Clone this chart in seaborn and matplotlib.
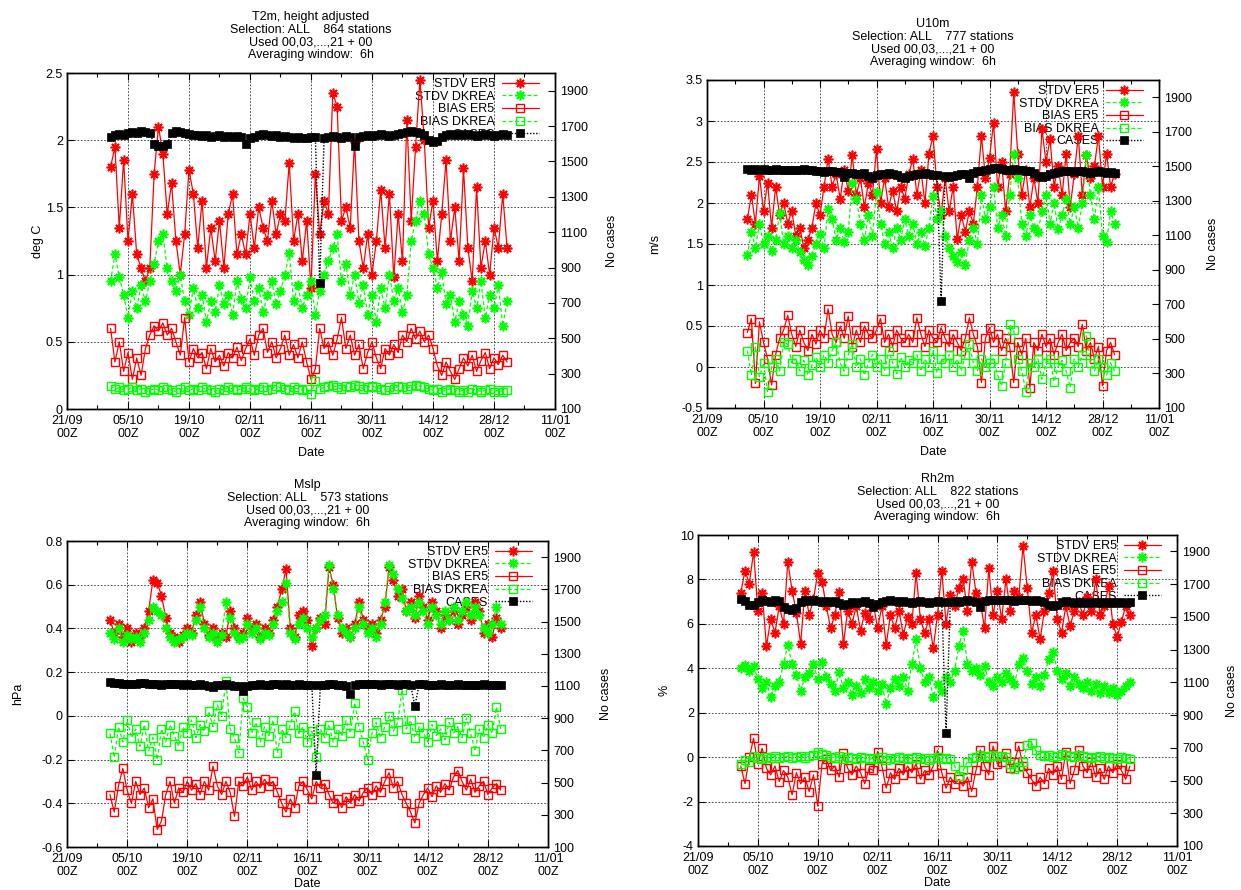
import numpy as np
import pandas as pd
import matplotlib
matplotlib.use("Agg")
import matplotlib.pyplot as plt
import matplotlib.dates as mdates
import seaborn as sns

sns.set_style("white")
plt.rcParams['font.family'] = ['Liberation Sans', 'DejaVu Sans']
plt.rcParams['font.size'] = 9
plt.rcParams['text.color'] = 'black'
plt.rcParams['axes.labelcolor'] = 'black'
plt.rcParams['xtick.color'] = 'black'
plt.rcParams['ytick.color'] = 'black'
plt.rcParams['axes.edgecolor'] = 'black'

#daily values, 01/10 to 31/12
dates = pd.date_range("2019-10-01", periods=92, freq="D")
xticks = pd.date_range("2019-09-21", "2020-01-11", freq="14D")
xminor = pd.date_range("2019-09-28", "2020-01-11", freq="14D")

labels = ["STDV ER5", "STDV DKREA", "BIAS ER5", "BIAS DKREA", "CASES"]

#T2m
t2m_stdv_er5 = [
    1.80, 1.95, 1.35, 1.85, 1.25, 1.60, 1.15, 1.05, 0.95, 1.05,
    1.75, 2.10, 1.90, 1.45, 1.68, 1.25, 1.00, 1.30, 1.78, 1.60,
    1.20, 1.55, 1.05, 1.35, 1.10, 1.40, 1.05, 1.45, 1.60, 1.15, 1.30,
    1.15, 1.45, 1.20, 1.50, 1.35, 1.25, 1.55, 1.30, 1.45, 1.40,
    1.83, 1.25, 1.45, 1.10, 1.40, 0.90, 1.75, 1.30, 1.55, 1.45,
    2.35, 2.25, 1.40, 1.50, 1.35, 1.99, 1.25, 1.05, 1.30, 1.00,
    1.25, 1.63, 1.20, 1.60, 0.98, 1.45, 1.10, 2.15, 1.40, 1.95,
    2.45, 2.00, 1.35, 1.55, 1.10, 1.45, 1.85, 1.25, 1.50, 1.10,
    1.79, 1.20, 0.95, 1.65, 1.05, 1.25, 1.00, 1.35, 1.20, 1.60, 1.20]
t2m_stdv_dkrea = [
    0.95, 1.15, 0.98, 0.85, 0.68, 0.88, 0.75, 0.92, 0.80, 0.95,
    1.08, 1.25, 1.30, 1.05, 0.95, 0.88, 1.00, 0.80, 0.70, 0.90,
    0.75, 0.85, 0.65, 0.80, 0.72, 0.92, 0.78, 0.85, 0.70, 0.95, 0.82,
    0.75, 0.98, 0.80, 0.90, 0.72, 0.85, 0.95, 0.78, 0.88, 1.00,
    1.16, 0.80, 0.92, 0.75, 0.85, 0.95, 0.70, 0.88, 1.00, 1.10,
    1.20, 1.30, 0.95, 1.08, 0.85, 1.00, 0.79, 0.92, 0.70, 0.85,
    0.65, 0.90, 0.75, 1.00, 0.80, 0.90, 0.72, 0.85, 1.25, 1.40,
    1.55, 1.45, 1.15, 1.05, 0.90, 1.02, 0.78, 0.85, 0.65, 0.80,
    0.70, 0.62, 0.88, 0.75, 0.95, 0.68, 0.85, 0.75, 0.92, 0.62, 0.80]
t2m_bias_er5 = [
    0.60, 0.35, 0.50, 0.28, 0.42, 0.22, 0.38, 0.25, 0.45, 0.55,
    0.62, 0.58, 0.64, 0.55, 0.60, 0.50, 0.40, 0.68, 0.35, 0.45,
    0.38, 0.42, 0.30, 0.45, 0.35, 0.40, 0.32, 0.42, 0.38, 0.46, 0.36,
    0.45, 0.52, 0.40, 0.55, 0.60, 0.42, 0.50, 0.38, 0.45, 0.55,
    0.40, 0.48, 0.38, 0.50, 0.35, 0.22, 0.30, 0.60, 0.45, 0.50,
    0.40, 0.52, 0.68, 0.45, 0.55, 0.40, 0.48, 0.30, 0.42, 0.50,
    0.38, 0.30, 0.45, 0.40, 0.48, 0.42, 0.55, 0.50, 0.60, 0.52,
    0.58, 0.50, 0.55, 0.45, 0.32, 0.25, 0.35, 0.28, 0.22, 0.30,
    0.38, 0.32, 0.40, 0.28, 0.36, 0.42, 0.30, 0.38, 0.33, 0.40, 0.35]
t2m_bias_dkrea = [
    0.17, 0.15, 0.16, 0.14, 0.15, 0.16, 0.14, 0.15, 0.13, 0.14,
    0.15, 0.14, 0.16, 0.15, 0.14, 0.13, 0.15, 0.16, 0.14, 0.15,
    0.14, 0.16, 0.15, 0.14, 0.13, 0.15, 0.14, 0.16, 0.15, 0.14, 0.15,
    0.16, 0.15, 0.14, 0.15, 0.16, 0.14, 0.15, 0.17, 0.16, 0.15,
    0.14, 0.16, 0.15, 0.14, 0.15, 0.11, 0.21, 0.15, 0.16, 0.17,
    0.18, 0.16, 0.15, 0.17, 0.16, 0.18, 0.17, 0.15, 0.16, 0.17,
    0.16, 0.15, 0.14, 0.16, 0.15, 0.17, 0.16, 0.15, 0.17, 0.18,
    0.17, 0.16, 0.15, 0.14, 0.15, 0.13, 0.14, 0.15, 0.14, 0.13,
    0.14, 0.13, 0.15, 0.14, 0.13, 0.14, 0.15, 0.13, 0.14, 0.13, 0.14]
t2m_cases = [
    1640, 1650, 1655, 1650, 1660, 1665, 1660, 1670, 1665, 1660,
    1600, 1590, 1585, 1600, 1660, 1670, 1665, 1660, 1655, 1650,
    1650, 1645, 1650, 1640, 1645, 1650, 1640, 1645, 1640, 1645, 1640,
    1600, 1630, 1640, 1650, 1655, 1650, 1645, 1650, 1640, 1645,
    1640, 1635, 1640, 1630, 1635, 1640, 1640, 810, 1635, 1640,
    1645, 1640, 1635, 1645, 1640, 1590, 1640, 1645, 1650, 1645,
    1650, 1655, 1650, 1645, 1650, 1655, 1660, 1665, 1670, 1665,
    1660, 1650, 1620, 1610, 1615, 1640, 1650, 1655, 1650, 1655,
    1650, 1655, 1650, 1645, 1650, 1655, 1650, 1645, 1650, 1655, 1650]

#U10m
u10_stdv_er5 = [
    1.80, 2.10, 1.75, 2.33, 1.90, 2.25, 1.70, 2.20, 1.85, 2.00,
    1.75, 1.90, 1.60, 1.70, 1.45, 1.55, 1.70, 2.00, 1.85, 2.20,
    2.54, 2.20, 2.35, 2.05, 2.40, 2.15, 2.58, 2.10, 2.30, 1.95, 2.25,
    2.10, 2.66, 2.00, 2.30, 1.95, 2.15, 1.90, 2.20, 2.05, 2.35,
    2.54, 2.10, 2.40, 2.00, 2.60, 2.82, 2.20, 1.85, 2.30, 1.90,
    2.20, 1.56, 1.85, 1.65, 1.90, 1.75, 2.20, 2.82, 2.30, 2.55,
    2.98, 2.20, 2.50, 1.90, 2.35, 3.35, 2.60, 2.10, 2.40, 1.95,
    2.30, 2.00, 2.90, 2.50, 2.78, 2.20, 2.45, 2.10, 2.60, 1.95,
    2.35, 2.82, 2.10, 2.58, 2.30, 2.45, 2.82, 2.20, 2.60, 2.20, 2.35]
u10_stdv_dkrea = [
    1.36, 1.65, 1.45, 1.75, 1.50, 1.60, 1.42, 1.55, 1.88, 1.50,
    1.60, 1.45, 1.55, 1.40, 1.30, 1.25, 1.35, 1.50, 1.62, 1.45,
    1.93, 1.80, 1.55, 1.70, 1.52, 1.65, 2.25, 2.05, 1.75, 1.55, 1.85,
    1.60, 2.13, 1.75, 1.50, 1.65, 1.45, 1.70, 1.55, 1.80, 1.60,
    1.75, 1.50, 1.65, 1.48, 1.70, 2.09, 1.80, 1.90, 1.60, 1.45,
    1.35, 1.28, 1.40, 1.25, 1.55, 1.70, 1.50, 2.10, 1.80, 1.95,
    2.20, 1.70, 1.85, 1.60, 2.10, 2.60, 2.30, 1.75, 1.60, 1.85,
    1.70, 1.65, 1.90, 2.10, 1.75, 2.00, 1.68, 1.85, 2.05, 1.75,
    1.95, 1.70, 2.00, 2.58, 2.10, 1.80, 2.20, 1.60, 1.52, 1.90, 1.75]
u10_bias_er5 = [
    0.42, 0.59, -0.20, 0.55, 0.30, 0.10, -0.22, 0.15, 0.35, 0.45,
    0.63, 0.40, 0.25, 0.45, 0.30, 0.20, 0.40, 0.28, 0.45, 0.35,
    0.71, 0.40, 0.30, 0.50, 0.35, 0.62, 0.25, 0.45, 0.30, 0.50, 0.40,
    0.35, 0.45, 0.59, 0.30, 0.40, 0.25, 0.45, 0.35, 0.30, 0.40,
    0.30, 0.60, 0.40, 0.25, 0.45, 0.35, 0.30, 0.48, 0.35, 0.25,
    0.40, 0.30, 0.20, 0.35, 0.60, 0.40, 0.25, -0.19, 0.35, 0.48,
    0.30, 0.40, 0.20, 0.35, 0.25, -0.19, 0.30, 0.15, 0.35, -0.25,
    0.30, 0.20, 0.40, 0.25, 0.35, 0.15, 0.30, 0.40, 0.20, 0.30,
    0.35, 0.25, 0.52, 0.20, 0.30, 0.10, 0.25, -0.23, 0.20, 0.30, 0.15]
u10_bias_dkrea = [
    0.20, -0.10, 0.25, -0.12, 0.05, -0.30, 0.00, 0.10, -0.05, 0.30,
    0.28, 0.05, 0.10, -0.05, 0.08, -0.10, 0.02, 0.12, 0.00, 0.15,
    0.05, 0.20, 0.30, 0.05, -0.05, 0.15, 0.28, 0.00, 0.10, -0.10, 0.05,
    0.15, 0.00, 0.10, -0.05, 0.20, 0.05, -0.08, 0.12, 0.00, 0.08,
    0.05, 0.15, -0.05, 0.10, 0.00, 0.20, -0.07, 0.10, 0.05, 0.15,
    0.00, 0.10, -0.05, 0.15, 0.28, 0.05, -0.05, 0.10, 0.00, 0.05,
    0.10, -0.10, -0.23, 0.05, 0.52, 0.45, 0.10, -0.05, -0.30, 0.05,
    0.00, 0.10, -0.15, 0.05, 0.10, -0.18, 0.00, 0.08, -0.05, -0.25,
    0.10, 0.00, 0.15, 0.38, 0.05, -0.05, 0.10, 0.00, -0.10, 0.05, -0.05]
u10_cases = [
    1485, 1480, 1485, 1478, 1482, 1480, 1478, 1482, 1480, 1476,
    1478, 1480, 1476, 1478, 1482, 1480, 1476, 1474, 1470, 1468,
    1470, 1472, 1468, 1465, 1440, 1460, 1462, 1458, 1455, 1460, 1445,
    1430, 1450, 1455, 1458, 1460, 1455, 1452, 1440, 1435, 1445,
    1450, 1455, 1458, 1460, 1455, 1450, 1452, 720, 1445, 1440,
    1442, 1450, 1455, 1458, 1430, 1460, 1470, 1475, 1480, 1485,
    1488, 1490, 1485, 1480, 1478, 1482, 1480, 1476, 1472, 1470,
    1462, 1445, 1440, 1445, 1455, 1462, 1466, 1470, 1472, 1470,
    1468, 1472, 1470, 1466, 1464, 1468, 1470, 1466, 1462, 1465, 1463]

#Mslp
mslp_stdv_er5 = [
    0.44, 0.38, 0.42, 0.36, 0.40, 0.34, 0.38, 0.36, 0.40, 0.48,
    0.62, 0.61, 0.55, 0.45, 0.38, 0.36, 0.34, 0.37, 0.40, 0.38,
    0.46, 0.52, 0.42, 0.37, 0.40, 0.35, 0.38, 0.36, 0.48, 0.40, 0.36,
    0.38, 0.45, 0.40, 0.42, 0.36, 0.40, 0.38, 0.44, 0.50, 0.58,
    0.67, 0.40, 0.36, 0.46, 0.48, 0.44, 0.32, 0.40, 0.45, 0.42,
    0.68, 0.60, 0.45, 0.38, 0.40, 0.36, 0.42, 0.52, 0.44, 0.40,
    0.42, 0.38, 0.44, 0.50, 0.68, 0.62, 0.55, 0.58, 0.48, 0.52,
    0.45, 0.55, 0.50, 0.44, 0.52, 0.48, 0.40, 0.46, 0.44, 0.48,
    0.42, 0.46, 0.50, 0.44, 0.52, 0.48, 0.38, 0.42, 0.36, 0.45, 0.40]
mslp_stdv_dkrea = [
    0.38, 0.35, 0.40, 0.34, 0.37, 0.35, 0.36, 0.34, 0.38, 0.44,
    0.50, 0.48, 0.46, 0.40, 0.36, 0.34, 0.35, 0.36, 0.38, 0.37,
    0.44, 0.50, 0.40, 0.36, 0.38, 0.34, 0.37, 0.52, 0.45, 0.38, 0.35,
    0.36, 0.42, 0.38, 0.40, 0.35, 0.38, 0.37, 0.42, 0.48, 0.52,
    0.61, 0.38, 0.35, 0.42, 0.45, 0.40, 0.36, 0.40, 0.44, 0.46,
    0.69, 0.58, 0.46, 0.40, 0.38, 0.36, 0.40, 0.50, 0.42, 0.38,
    0.40, 0.36, 0.42, 0.52, 0.69, 0.65, 0.58, 0.54, 0.48, 0.50,
    0.46, 0.52, 0.48, 0.42, 0.50, 0.46, 0.42, 0.48, 0.44, 0.50,
    0.44, 0.48, 0.52, 0.46, 0.50, 0.46, 0.40, 0.38, 0.42, 0.50, 0.42]
mslp_bias_er5 = [
    -0.36, -0.44, -0.32, -0.24, -0.34, -0.40, -0.30, -0.36, -0.33, -0.42,
    -0.38, -0.52, -0.48, -0.36, -0.30, -0.40, -0.33, -0.35, -0.30, -0.34,
    -0.31, -0.36, -0.30, -0.34, -0.23, -0.32, -0.36, -0.30, -0.35, -0.46, -0.30,
    -0.32, -0.28, -0.34, -0.30, -0.33, -0.29, -0.32, -0.30, -0.35, -0.40,
    -0.44, -0.38, -0.42, -0.32, -0.30, -0.34, -0.38, -0.30, -0.33, -0.31,
    -0.36, -0.40, -0.38, -0.42, -0.37, -0.40, -0.36, -0.39, -0.35, -0.33,
    -0.36, -0.32, -0.35, -0.30, -0.26, -0.33, -0.30, -0.36, -0.40, -0.44,
    -0.49, -0.40, -0.36, -0.33, -0.37, -0.32, -0.35, -0.31, -0.34, -0.28,
    -0.25, -0.30, -0.34, -0.29, -0.35, -0.32, -0.30, -0.36, -0.33, -0.31, -0.34]
mslp_bias_dkrea = [
    -0.08, -0.19, -0.05, -0.12, -0.02, -0.10, -0.06, -0.14, -0.04, -0.16,
    -0.10, -0.20, -0.06, -0.12, -0.04, -0.09, -0.14, -0.05, -0.08, -0.02,
    -0.10, -0.04, -0.07, 0.02, -0.05, 0.05, 0.00, 0.16, -0.06, -0.10, -0.17,
    0.08, 0.04, -0.08, -0.03, -0.12, -0.05, -0.09, -0.02, -0.17, -0.06,
    -0.10, -0.04, 0.02, -0.08, -0.05, -0.12, -0.07, -0.19, -0.06, -0.10,
    -0.04, -0.12, -0.06, -0.09, -0.02, -0.08, 0.06, -0.05, -0.12, -0.20,
    -0.08, -0.03, -0.10, -0.05, 0.00, -0.07, -0.03, 0.12, -0.06, -0.02,
    -0.10, -0.05, -0.08, -0.12, -0.04, -0.09, -0.06, -0.11, -0.03, -0.08,
    -0.05, -0.10, -0.01, -0.08, -0.16, -0.06, -0.10, -0.04, -0.08, 0.04, -0.06]
mslp_cases = [
    1125, 1120, 1118, 1115, 1112, 1110, 1115, 1118, 1120, 1115,
    1112, 1110, 1108, 1112, 1115, 1112, 1110, 1108, 1110, 1105,
    1108, 1110, 1105, 1100, 1095, 1105, 1108, 1110, 1106, 1102, 1100,
    1070, 1100, 1105, 1108, 1110, 1108, 1105, 1110, 1112, 1108,
    1110, 1105, 1108, 1110, 1106, 1104, 1108, 550, 1105, 1108,
    1110, 1112, 1108, 1105, 1100, 1050, 1105, 1110, 1112, 1115,
    1112, 1110, 1108, 1112, 1115, 1110, 1108, 1112, 1110, 1108,
    975, 1110, 1112, 1108, 1105, 1108, 1110, 1106, 1104, 1108,
    1110, 1108, 1106, 1104, 1106, 1108, 1110, 1106, 1104, 1106, 1108]

#Rh2m
rh_stdv_er5 = [
    7.40, 8.40, 7.80, 9.25, 6.60, 7.40, 5.00, 6.20, 5.60, 6.80,
    6.00, 8.80, 7.50, 6.50, 5.10, 7.50, 6.40, 7.10, 8.30, 7.90,
    6.80, 5.80, 6.40, 7.45, 5.10, 6.60, 6.00, 6.80, 5.70, 6.50, 6.20,
    6.90, 5.80, 6.80, 5.05, 6.40, 5.80, 6.60, 5.50, 6.30, 6.00,
    8.30, 6.20, 5.60, 6.20, 4.90, 6.40, 8.40, 6.00, 7.30, 6.80,
    7.60, 8.00, 6.60, 8.80, 7.40, 7.00, 5.80, 8.50, 6.40, 7.50,
    6.20, 8.00, 6.60, 7.50, 7.20, 9.50, 7.60, 5.60, 6.40, 5.30,
    6.60, 7.40, 8.40, 6.20, 5.60, 6.80, 5.90, 6.60, 7.00, 6.40,
    7.20, 6.60, 8.00, 6.40, 6.80, 7.70, 6.00, 5.40, 6.10, 6.80, 6.40]
rh_stdv_dkrea = [
    4.00, 4.15, 3.90, 4.10, 3.50, 3.10, 3.40, 2.70, 3.20, 3.40,
    4.20, 5.05, 4.20, 3.70, 3.00, 3.60, 3.80, 4.20, 3.50, 4.30,
    3.60, 3.30, 3.00, 3.85, 3.10, 3.40, 2.80, 3.20, 2.90, 3.50, 3.10,
    3.40, 3.00, 3.30, 2.40, 3.10, 3.50, 3.20, 3.60, 3.00, 4.20,
    5.30, 4.00, 3.40, 3.60, 2.70, 3.30, 3.00, 3.60, 3.40, 3.90,
    5.00, 5.70, 4.20, 3.90, 4.00, 3.70, 4.10, 3.40, 3.20, 3.60,
    3.40, 3.80, 3.50, 3.30, 4.20, 4.45, 3.90, 3.30, 3.60, 3.20,
    3.70, 4.40, 4.75, 3.90, 3.50, 3.80, 3.20, 3.60, 3.30, 3.10,
    3.40, 3.00, 3.30, 2.90, 3.20, 2.90, 3.10, 2.80, 3.00, 3.20, 3.40]
rh_bias_er5 = [
    -0.40, -1.20, 0.00, 0.85, -0.30, 0.40, -0.50, -0.80, -0.40, -1.10,
    -0.60, -0.90, -1.70, -0.70, -1.20, -0.90, -1.55, -0.80, -2.20, -0.30,
    -0.10, -0.60, -0.40, -0.90, 0.20, -0.50, -0.80, -0.40, -0.70, -1.20, -0.50,
    -0.60, 0.25, -0.40, -1.40, -0.70, -1.00, -0.50, -0.80, -0.40, -0.70,
    -0.30, -1.00, -0.60, -0.80, -0.40, 0.30, -0.70, -1.40, -0.90, -1.20,
    -1.00, -1.30, -0.90, -1.55, -0.60, 0.33, -0.40, -0.80, 0.50, -0.30,
    -0.20, 0.20, -0.50, -0.20, 0.50, -0.40, -0.70, -1.00, -1.30, -0.90,
    -1.20, -0.50, -0.80, -0.40, -1.00, 0.25, -1.20, -0.60, 0.30, -0.40,
    -0.70, -0.20, -0.90, -0.50, -1.00, -0.40, -0.70, -0.30, -0.60, -1.00, -0.40]
rh_bias_dkrea = [
    -0.30, -0.15, -0.20, 0.05, -0.05, -0.10, 0.00, -0.05, 0.05, -0.05,
    0.00, 0.05, -0.05, 0.00, 0.05, -0.05, 0.05, 0.10, 0.25, 0.15,
    0.10, 0.00, -0.05, 0.05, -0.10, 0.00, -0.05, -0.10, 0.00, -0.05, -0.10,
    -0.05, -0.10, 0.00, -0.15, -0.05, -0.10, 0.00, -0.05, -0.10, -0.05,
    0.00, -0.10, -0.05, -0.15, -0.05, 0.00, -0.10, -0.05, -0.10, -0.40,
    -0.85, -0.60, -0.20, -0.05, 0.00, 0.10, 0.05, 0.00, 0.10, 0.05,
    0.05, 0.00, -0.30, -0.55, -0.45, -0.20, 0.55, 0.65, 0.30, 0.10,
    0.05, 0.10, 0.00, 0.05, 0.15, 0.10, 0.05, 0.00, 0.10, 0.05,
    0.00, -0.05, 0.00, 0.05, -0.05, 0.00, -0.05, -0.10, 0.00, -0.05, -0.10]
rh_cases = [
    1610, 1595, 1575, 1570, 1590, 1600, 1595, 1590, 1600, 1595,
    1560, 1545, 1540, 1555, 1590, 1600, 1595, 1600, 1595, 1590,
    1595, 1590, 1595, 1585, 1575, 1580, 1590, 1585, 1590, 1595, 1585,
    1560, 1580, 1590, 1595, 1600, 1595, 1590, 1595, 1590, 1585,
    1590, 1595, 1590, 1585, 1590, 1595, 1590, 790, 1590, 1595,
    1590, 1595, 1600, 1595, 1590, 1560, 1595, 1600, 1605, 1600,
    1600, 1605, 1600, 1595, 1600, 1605, 1600, 1595, 1600, 1595,
    1590, 1570, 1565, 1575, 1590, 1595, 1590, 1585, 1590, 1585,
    1590, 1585, 1590, 1585, 1590, 1585, 1590, 1585, 1590, 1585, 1590]

RED = "#ff0000"
GREEN = "#00ff00"
STAR = (8, 2, 0)

W, H = 1241, 890
fig = plt.figure(figsize=(W / 100, H / 100), dpi=100)


def panel(box, title, ylabel, ylim, ystep, stdv_er5, stdv_dkrea, bias_er5, bias_dkrea, cases,
          ylab_x, y2lab_x, date_pad):
    x0, y0, x1, y1 = box
    wpx, hpx = x1 - x0, y1 - y0
    ax = fig.add_axes([x0 / W, 1 - y1 / H, wpx / W, hpx / H])
    ax2 = ax.twinx()

    handles = []
    sns.lineplot(x=dates, y=stdv_er5, ax=ax, color=RED, lw=0.9, linestyle='-',
                 marker=STAR, markersize=7, mew=1.2, mec=RED)
    handles.append(ax.lines[-1])
    sns.lineplot(x=dates, y=stdv_dkrea, ax=ax, color=GREEN, lw=0.9, linestyle=(0, (3, 2)),
                 marker=STAR, markersize=7, mew=1.2, mec=GREEN)
    handles.append(ax.lines[-1])
    sns.lineplot(x=dates, y=bias_er5, ax=ax, color=RED, lw=0.9, linestyle='-',
                 marker='s', markersize=5.5, mew=1.0, mfc='none', mec=RED)
    handles.append(ax.lines[-1])
    sns.lineplot(x=dates, y=bias_dkrea, ax=ax, color=GREEN, lw=0.9, linestyle=(0, (3, 2)),
                 marker='s', markersize=5.5, mew=1.0, mfc='none', mec=GREEN)
    handles.append(ax.lines[-1])
    sns.lineplot(x=dates, y=cases, ax=ax2, color='black', lw=1.0, linestyle=(0, (1, 1.2)),
                 marker='s', markersize=6, mew=0.5, mfc='black', mec='black')
    handles.append(ax2.lines[-1])

    ax.set_xlim(xticks[0], xticks[-1])
    ax.set_xticks(xticks)
    ax.set_xticks(xminor, minor=True)
    ax.xaxis.set_major_formatter(mdates.DateFormatter('%d/%m\n%HZ'))
    ax.set_ylim(*ylim)
    ax.set_yticks(np.arange(ylim[0], ylim[1] + ystep / 2, ystep))
    ax.yaxis.set_major_formatter(plt.FuncFormatter(lambda v, p: f"{round(v, 4) + 0:g}"))
    ax2.set_ylim(100, 2000)
    ax2.set_yticks(np.arange(100, 2000, 200))

    ax.grid(True, which='major', color='#303030', lw=0.6, linestyle=(0, (2, 2)))
    ax2.grid(False)
    ax.tick_params(axis='x', which='major', direction='in', length=5, width=0.8,
                   top=True, bottom=True, pad=4)
    ax.tick_params(axis='x', which='minor', direction='in', length=3, width=0.8,
                   top=True, bottom=True)
    ax.tick_params(axis='y', direction='in', length=5, width=0.8, left=True, right=False, pad=3)
    ax2.tick_params(axis='y', direction='in', length=5, width=0.8, right=True, pad=4)
    for a in (ax, ax2):
        for s in a.spines.values():
            s.set_linewidth(1.0)
            s.set_color('black')

    ax.set_title(title, pad=11, linespacing=1.05, fontsize=9)
    ax.set_xlabel("Date", labelpad=date_pad)
    ax.set_ylabel(ylabel)
    ax.yaxis.set_label_coords((ylab_x + 6 - x0) / wpx, 0.5)
    ax2.set_ylabel("No cases", rotation=90)
    ax2.yaxis.set_label_coords((y2lab_x - 6 - x0) / wpx, 0.5)

    leg = ax.legend(handles, labels, loc='upper right',
                    bbox_to_anchor=(1 - 16 / wpx, 1 - 5 / hpx),
                    frameon=False, markerfirst=False, handlelength=3.0,
                    handletextpad=0.55, labelspacing=0.05, borderpad=0,
                    borderaxespad=0, numpoints=1)
    leg.set_zorder(1)
    return ax


panel((67, 73, 555, 409), "T2m, height adjusted\nSelection: ALL    864 stations\n"
      "Used 00,03,...,21 + 00\nAveraging window:  6h", "deg C", (0, 2.5), 0.5,
      t2m_stdv_er5, t2m_stdv_dkrea, t2m_bias_er5, t2m_bias_dkrea, t2m_cases, 38, 612, 5)
panel((707, 80, 1159, 408), "U10m\nSelection: ALL    777 stations\n"
      "Used 00,03,...,21 + 00\nAveraging window:  6h", "m/s", (-0.5, 3.5), 0.5,
      u10_stdv_er5, u10_stdv_dkrea, u10_bias_er5, u10_bias_dkrea, u10_cases, 655, 1213, 5)
panel((67, 541, 548, 847), "Mslp\nSelection: ALL    573 stations\n"
      "Used 00,03,...,21 + 00\nAveraging window:  6h", "hPa", (-0.6, 0.8), 0.2,
      mslp_stdv_er5, mslp_stdv_dkrea, mslp_bias_er5, mslp_bias_dkrea, mslp_cases, 18, 606, 0)
panel((698, 535, 1177, 846), "Rh2m\nSelection: ALL    822 stations\n"
      "Used 00,03,...,21 + 00\nAveraging window:  6h", "%", (-4, 10), 2,
      rh_stdv_er5, rh_stdv_dkrea, rh_bias_er5, rh_bias_dkrea, rh_cases, 665, 1232, 0)

fig.savefig("out.png", dpi=100)
